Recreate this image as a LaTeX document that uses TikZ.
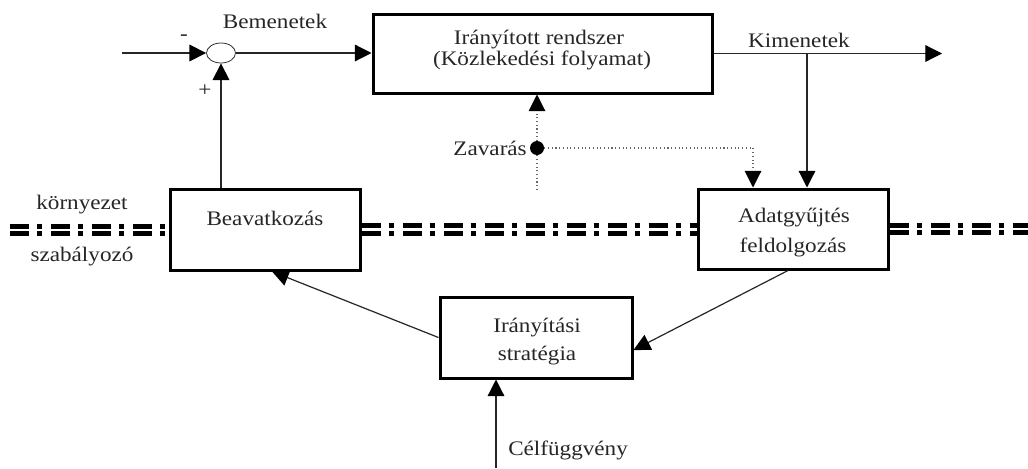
\documentclass[tikz,border=0pt]{standalone}
\usepackage{fontspec}
\setmainfont{Liberation Serif}[FakeStretch=1.12]
\usetikzlibrary{arrows.meta,shapes.geometric}
\begin{document}
\begin{tikzpicture}[x=0.75pt,y=-0.75pt,
  box/.style={draw=black, line width=2.25pt, inner sep=0pt},
  arr/.style={line width=0.9pt, draw=black!85, -{Triangle[length=12.5pt,width=12.5pt,color=black]}},
  dotline/.style={line width=0.8pt, dotted, draw=black!60},
  dotarr/.style={dotline, -{Triangle[length=12.5pt,width=12.5pt,color=black]}},
  lbl/.style={font=\fontsize{15.5pt}{16pt}\selectfont, inner sep=0pt, text=black!85},
  sepline/.style={double=white, double distance=1.6pt, line width=4pt, draw=black,
    dash pattern=on 14.25pt off 6pt on 3.75pt off 6.75pt}
]
\fill[white] (0,0) rectangle (1028,468);
\useasboundingbox (0,0) rectangle (1028,468);

% boxes
\node[box, minimum width=254.25pt, minimum height=59.25pt] (rsz) at (542.5,53.5) {};
\node[box, minimum width=142.5pt, minimum height=60.75pt] (bea) at (265,229.5) {};
\node[box, minimum width=142.5pt, minimum height=60pt] (adat) at (793,229) {};
\node[box, minimum width=144pt, minimum height=60.75pt] (str) at (536,337.5) {};
\node[draw=black!80, line width=0.6pt, ellipse, minimum width=21.75pt, minimum height=15pt, inner sep=0pt] (sum) at (221,53) {};
\node[circle, fill=black, minimum size=10.5pt, inner sep=0pt] (zd) at (537,148) {};

% box texts
\node[lbl, anchor=base] (t1a) at (539,44) {Irányított rendszer};
\node[lbl, anchor=base] (t1b) at (542,65) {(Közlekedési folyamat)};
\node[lbl, anchor=base] (t2) at (265,225) {Beavatkozás};
\node[lbl, anchor=base] (t3a) at (794,222) {Adatgyűjtés};
\node[lbl, anchor=base] (t3b) at (793,252) {feldolgozás};
\node[lbl, anchor=base] (t4a) at (537,332) {Irányítási};
\node[lbl, anchor=base] (t4b) at (537,360) {stratégia};

% free labels
\node[lbl, anchor=base] (lbe) at (275,28) {Bemenetek};
\node[lbl, anchor=base] (lki) at (799,47) {Kimenetek};
\node[lbl, anchor=base east] (lza) at (527,155) {Zavarás};
\node[lbl, anchor=base] (lko) at (82,209) {környezet};
\node[lbl, anchor=base] (lsz) at (82,261) {szabályozó};
\node[lbl, anchor=base west] (lce) at (508,455) {Célfüggvény};
\node[lbl] (lmi) at (184,38) {-};
\node[lbl] (lpl) at (205,91) {+};

% separator lines
\coordinate (sl) at (10,230);
\coordinate (sr) at (1028,230);
\draw[sepline] (sl) -- (sl -| bea.west);
\draw[sepline] (bea.east) -- (bea.east -| adat.west);
\draw[sepline] (adat.east) -- (adat.east -| sr);

% connectors
\coordinate (in) at (122,53);
\draw[arr] (in) -- (sum.west);
\draw[arr] (sum.east) -- (sum.east -| rsz.west);
\draw[arr] (sum.south |- bea.north) -- (sum.south);
\coordinate (out) at (942,53.5);
\draw[arr] (rsz.east) -- (rsz.east -| out);
\coordinate (kj) at (807,53.5);
\draw[arr] (kj) -- (kj |- adat.north);
\coordinate (zb) at (537,190);
\draw[dotline] (zb) -- (zd.south);
\draw[dotarr] (zd.north) -- (zd.north |- rsz.south);
\coordinate (zc) at (753,148);
\draw[dotarr] (zd.east) -- (zc) -- (zc |- adat.north);
\draw[arr] ([xshift=-3.75pt]adat.south) -- ([yshift=-9.4pt]str.east);
\draw[arr] (str.west) -- ([xshift=5.25pt]bea.south);
\coordinate (cf) at (496,468);
\draw[arr] (cf) -- (cf |- str.south);
\end{tikzpicture}
\end{document}
